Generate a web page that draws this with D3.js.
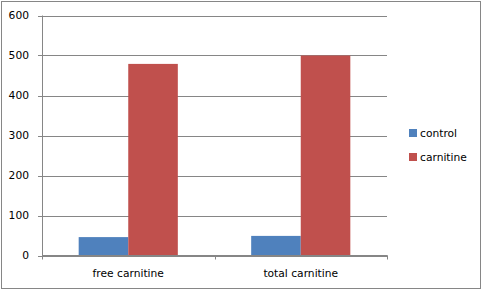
<!DOCTYPE html>
<html>
<head>
<meta charset="utf-8">
<script src="https://cdn.jsdelivr.net/npm/d3@7"></script>
<style>
  body { margin: 0; background: #fff; }
  text { font-family: "DejaVu Sans", Verdana, sans-serif; font-size: 10.7px; fill: #000; }
</style>
</head>
<body>
<script>
const categories = ['free carnitine', 'total carnitine'];
const seriesNames = ['control', 'carnitine'];
const control = [46, 49];
const carnitine = [479, 500];
const yTicks = [0, 100, 200, 300, 400, 500, 600];
const colors = ['#4f81bd', '#c0504d'];

const width = 483, height = 291;
const plot = { left: 42, right: 387, top: 15.5, bottom: 255.5 };

const svg = d3.select('body').append('svg')
  .attr('width', width)
  .attr('height', height);

// outer frame
svg.append('rect')
  .attr('x', 1.5).attr('y', 1.5)
  .attr('width', 479).attr('height', 287)
  .attr('fill', '#fff')
  .attr('stroke', '#868686');

const x = d3.scaleBand().domain(categories).range([plot.left, plot.right]).paddingInner(0).paddingOuter(0);
const x1 = d3.scaleBand().domain(seriesNames).range([0, x.bandwidth()]).paddingInner(0).paddingOuter(0.74);
const y = d3.scaleLinear().domain([0, 600]).range([plot.bottom, plot.top]);

// gridlines
svg.append('g')
  .selectAll('line')
  .data(yTicks)
  .join('line')
    .attr('x1', plot.left - 4)
    .attr('x2', plot.right)
    .attr('y1', d => Math.round(y(d)) + 0.5)
    .attr('y2', d => Math.round(y(d)) + 0.5)
    .attr('stroke', '#868686');

// y labels
svg.append('g')
  .selectAll('text')
  .data(yTicks)
  .join('text')
    .attr('x', plot.left - 13)
    .attr('y', d => y(d))
    .attr('dy', '0.35em')
    .attr('text-anchor', 'end')
    .text(d => d);

// bars
const rows = categories.map((c, i) => ({ cat: c, values: [control[i], carnitine[i]] }));
svg.append('g')
  .selectAll('g')
  .data(rows)
  .join('g')
    .attr('transform', d => `translate(${x(d.cat)},0)`)
  .selectAll('rect')
  .data(d => d.values.map((v, j) => ({ name: seriesNames[j], v, j })))
  .join('rect')
    .attr('x', d => x1(d.name))
    .attr('width', x1.bandwidth())
    .attr('y', d => y(d.v))
    .attr('height', d => y(0) - y(d.v))
    .attr('fill', d => colors[d.j]);

// axes lines
svg.append('line')
  .attr('x1', plot.left + 0.5).attr('x2', plot.left + 0.5)
  .attr('y1', plot.top).attr('y2', plot.bottom)
  .attr('stroke', '#868686');
svg.append('line')
  .attr('x1', plot.left).attr('x2', plot.right + 0.5)
  .attr('y1', plot.bottom).attr('y2', plot.bottom)
  .attr('stroke', '#868686');

// category ticks
const catTicks = [plot.left, ...categories.map(c => x(c) + x.bandwidth())];
svg.append('g')
  .selectAll('line')
  .data(catTicks)
  .join('line')
    .attr('x1', d => Math.round(d) + 0.5)
    .attr('x2', d => Math.round(d) + 0.5)
    .attr('y1', plot.bottom)
    .attr('y2', plot.bottom + 4)
    .attr('stroke', '#868686');

// category labels
svg.append('g')
  .selectAll('text')
  .data(categories)
  .join('text')
    .attr('x', d => x(d) + x.bandwidth() / 2)
    .attr('y', 277)
    .attr('text-anchor', 'middle')
    .text(d => d);

// legend
const legend = svg.append('g')
  .selectAll('g')
  .data(seriesNames)
  .join('g')
    .attr('transform', (d, i) => `translate(409,${129 + i * 24})`);
legend.append('rect')
  .attr('width', 8).attr('height', 8)
  .attr('fill', (d, i) => colors[i]);
legend.append('text')
  .attr('x', 11)
  .attr('y', 4)
  .attr('dy', '0.35em')
  .text(d => d);
</script>
</body>
</html>
